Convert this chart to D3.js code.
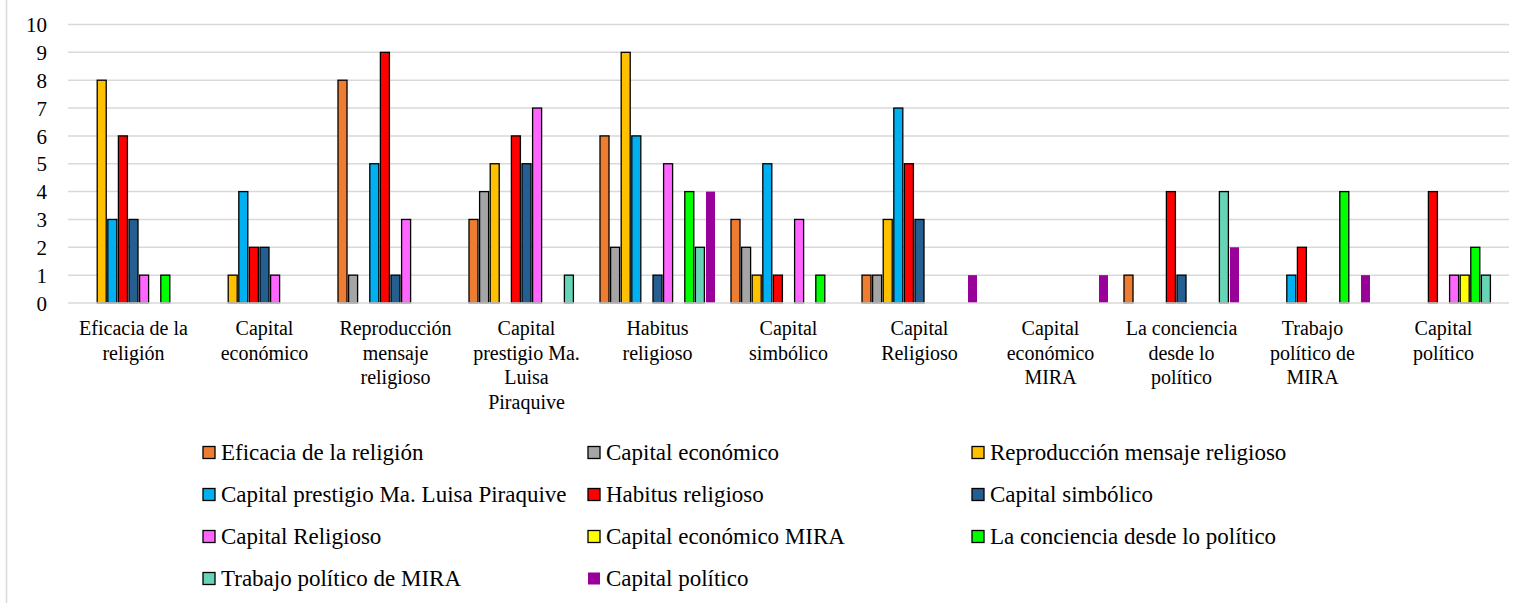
<!DOCTYPE html>
<html>
<head>
<meta charset="utf-8">
<script src="https://cdn.jsdelivr.net/npm/d3@7"></script>
<style>
  html, body { margin: 0; padding: 0; background: #fff; }
  svg { display: block; }
</style>
</head>
<body>
<script>
// ---- data ----
const categories = [
  "Eficacia de la religión", "Capital económico", "Reproducción mensaje religioso",
  "Capital prestigio Ma. Luisa Piraquive", "Habitus religioso", "Capital simbólico",
  "Capital Religioso", "Capital económico MIRA", "La conciencia desde lo político",
  "Trabajo político de MIRA", "Capital político"
];
const categoryLabelLines = [
  ["Eficacia de la", "religión"],
  ["Capital", "económico"],
  ["Reproducción", "mensaje", "religioso"],
  ["Capital", "prestigio Ma.", "Luisa", "Piraquive"],
  ["Habitus", "religioso"],
  ["Capital", "simbólico"],
  ["Capital", "Religioso"],
  ["Capital", "económico", "MIRA"],
  ["La conciencia", "desde lo", "político"],
  ["Trabajo", "político de", "MIRA"],
  ["Capital", "político"]
];
const seriesNames = categories.slice();
// values per series, one per category
const sEficacia      = [0, 0, 8, 3, 6, 3, 1, 0, 1, 0, 0];
const sCapEconomico  = [0, 0, 1, 4, 2, 2, 1, 0, 0, 0, 0];
const sReproduccion  = [8, 1, 0, 5, 9, 1, 3, 0, 0, 0, 0];
const sPrestigio     = [3, 4, 5, 0, 6, 5, 7, 0, 0, 1, 0];
const sHabitus       = [6, 2, 9, 6, 0, 1, 5, 0, 4, 2, 4];
const sSimbolico     = [3, 2, 1, 5, 1, 0, 3, 0, 1, 0, 0];
const sCapReligioso  = [1, 1, 3, 7, 5, 3, 0, 0, 0, 0, 1];
const sEconomicoMira = [0, 0, 0, 0, 0, 0, 0, 0, 0, 0, 1];
const sConciencia    = [1, 0, 0, 0, 4, 1, 0, 0, 0, 4, 2];
const sTrabajoMira   = [0, 0, 0, 1, 2, 0, 0, 0, 4, 0, 1];
const sCapPolitico   = [0, 0, 0, 0, 4, 0, 1, 1, 2, 1, 0];
const seriesValues = [sEficacia, sCapEconomico, sReproduccion, sPrestigio, sHabitus,
  sSimbolico, sCapReligioso, sEconomicoMira, sConciencia, sTrabajoMira, sCapPolitico];
const seriesColors = ["#ED7D31", "#A5A5A5", "#FFC000", "#00B0F0", "#FF0000", "#255E91",
  "#FF66FF", "#FFFF00", "#00FF00", "#66D4B6", "#990099"];
const seriesStroked = [true, true, true, true, true, true, true, true, true, true, false];
const yTicks = [0, 1, 2, 3, 4, 5, 6, 7, 8, 9, 10];

// ---- layout ----
const FONT = '"Liberation Serif", "Tinos", "Noto Serif", "Noto Serif CJK SC", "Noto Serif CJK JP", "DejaVu Serif", "Times New Roman", Times, serif';
const W = 1528, H = 603;
const plot = { left: 68, right: 1509, top: 24.5, bottom: 303 };

const svg = d3.select("body").append("svg").attr("width", W).attr("height", H)
  .attr("font-family", FONT);

// left frame line
svg.append("line").attr("x1", 6.5).attr("x2", 6.5).attr("y1", 0).attr("y2", H)
  .attr("stroke", "#d9d9d9").attr("stroke-width", 1.5);

const x0 = d3.scaleBand().domain(d3.range(categories.length))
  .range([plot.left, plot.right]).paddingInner(0).paddingOuter(0);
const x1 = d3.scaleBand().domain(d3.range(seriesNames.length))
  .range([8, x0.bandwidth() - 8]).paddingInner(0.15).paddingOuter(0);
const y = d3.scaleLinear().domain([0, 10]).range([plot.bottom, plot.top]);

// gridlines
svg.append("g").selectAll("line").data(yTicks.filter(d => d > 0)).join("line")
  .attr("x1", plot.left).attr("x2", plot.right)
  .attr("y1", d => y(d)).attr("y2", d => y(d))
  .attr("stroke", "#d9d9d9").attr("stroke-width", 1.5);

// y tick labels via axis
const yAxis = svg.append("g").attr("transform", `translate(${plot.left},0)`)
  .call(d3.axisLeft(y).tickValues(yTicks).tickSize(0).tickPadding(21).tickFormat(d3.format("d")))
  .attr("font-family", FONT).attr("font-size", 21);
yAxis.select(".domain").remove();
yAxis.selectAll("text").attr("font-family", FONT).attr("font-size", 21)
  .attr("fill", "#000").attr("dy", "0.34em");

// bars
const groups = svg.append("g").selectAll("g").data(categories).join("g")
  .attr("transform", (d, i) => `translate(${x0(i)},0)`);
groups.each(function (cat, ci) {
  const g = d3.select(this);
  const data = seriesValues.map((vals, si) => ({ si, v: vals[ci] })).filter(d => d.v > 0);
  g.selectAll("rect").data(data).join("rect")
    .attr("x", d => x1(d.si)).attr("width", x1.bandwidth())
    .attr("y", d => y(d.v)).attr("height", d => y(0) - y(d.v))
    .attr("fill", d => seriesColors[d.si])
    .attr("stroke", d => seriesStroked[d.si] ? "#000" : "none")
    .attr("stroke-width", 1.3);
});

// zero axis line on top
svg.append("line").attr("x1", plot.left).attr("x2", plot.right)
  .attr("y1", y(0)).attr("y2", y(0)).attr("stroke", "#d9d9d9").attr("stroke-width", 1.5);

// category labels
const catLabels = svg.append("g").selectAll("text").data(categoryLabelLines).join("text")
  .attr("x", (d, i) => x0(i) + x0.bandwidth() / 2)
  .attr("y", 335)
  .attr("text-anchor", "middle")
  .attr("font-family", FONT).attr("font-size", 20).attr("fill", "#000");
catLabels.each(function (lines) {
  d3.select(this).selectAll("tspan").data(lines).join("tspan")
    .attr("x", d3.select(this).attr("x"))
    .attr("dy", (d, i) => i === 0 ? 0 : 24.5)
    .text(d => d);
});

// legend
const legendCols = [203, 588, 972];
const legendRowY = [452.5, 494.5, 536.5, 578.5];
const legend = svg.append("g").selectAll("g").data(seriesNames).join("g")
  .attr("transform", (d, i) => `translate(${legendCols[i % 3]},${legendRowY[Math.floor(i / 3)]})`);
legend.append("rect").attr("x", 0).attr("y", -6).attr("width", 12).attr("height", 12)
  .attr("fill", (d, i) => seriesColors[i])
  .attr("stroke", (d, i) => seriesStroked[i] ? "#000" : "none").attr("stroke-width", 1.3);
legend.append("text").attr("x", 18).attr("y", 0).attr("dy", "0.33em")
  .attr("font-family", FONT).attr("font-size", 23).attr("fill", "#000").text(d => d);
</script>
</body>
</html>
